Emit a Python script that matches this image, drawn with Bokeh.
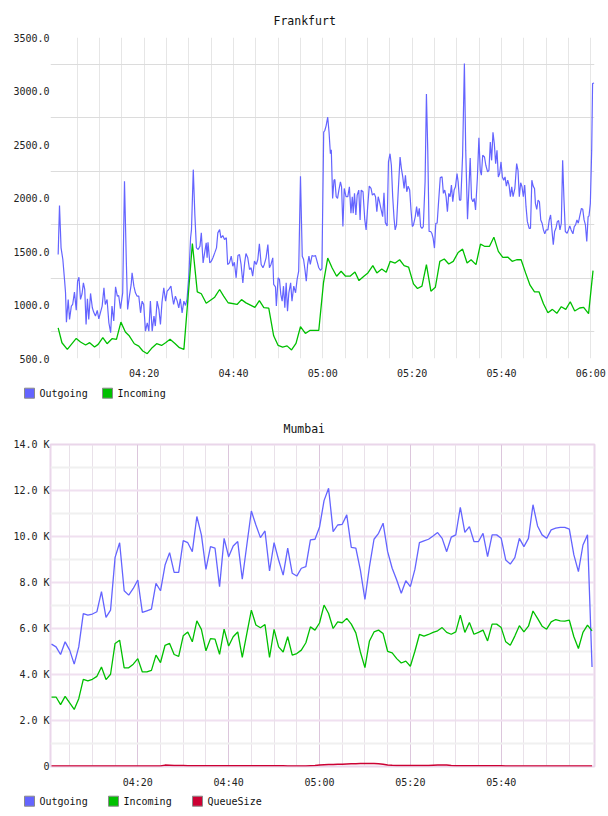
from bokeh.plotting import figure
from bokeh.models import FixedTicker, Grid
from bokeh.layouts import column, row
from bokeh.core.properties import value
from bokeh.embed import file_html
from bokeh.resources import INLINE

FONT = "DejaVu Sans Mono"
BLUE = "#6464ff"
GREEN = "#00c000"
RED = "#cc0033"

# ---------------- Frankfurt ----------------
# minutes after 04:00
fra_out_min = [
    0.75, 1.05, 1.4, 1.8, 2.2, 2.4, 2.6, 3.0, 3.3, 3.7,
    4.0, 4.4, 4.8, 5.1, 5.4, 5.75, 6.1, 6.4, 6.7, 7.0,
    7.3, 7.6, 8.0, 8.4, 8.7, 9.1, 9.5, 9.85, 10.2, 10.6,
    11.0, 11.3, 11.7, 12.1, 12.5, 12.8, 13.2, 13.6, 14.0, 14.3,
    14.7, 15.2, 15.6, 16.0, 16.3, 16.7, 17.1, 17.3, 17.7, 18.05,
    18.4, 18.8, 19.2, 19.55, 19.9, 20.3, 20.7, 21.05, 21.4, 21.8,
    22.2, 22.5, 22.9, 23.3, 23.65, 24.0, 24.4, 24.8, 25.15, 25.5,
    26.0, 26.3, 26.6, 27.0, 27.4, 27.75, 28.1, 28.5, 28.9, 29.25,
    29.6, 30.0, 30.4, 30.6, 31.0, 31.35, 31.7, 32.1, 32.5, 32.8,
    33.2, 33.6, 33.9, 34.1, 34.3, 34.7, 35.05, 35.4, 35.8, 36.2,
    36.5, 36.9, 37.2, 37.6, 38.0, 38.4, 38.7, 39.1, 39.5, 39.85,
    40.2, 40.6, 41.0, 41.35, 41.7, 42.1, 42.5, 42.8, 43.2, 43.6,
    43.95, 44.3, 44.7, 45.1, 45.45, 45.8, 46.2, 46.6, 46.9, 47.3,
    47.7, 48.05, 48.4, 48.8, 49.0, 49.4, 49.6, 50.0, 50.3, 50.6,
    50.9, 51.2, 51.5, 51.8, 52.1, 52.4, 52.8, 53.1, 53.5, 53.9,
    54.25, 54.6, 55.0, 55.4, 55.7, 56.0, 56.3, 56.6, 56.9, 57.2,
    57.6, 58.0, 58.35, 58.7, 59.1, 59.5, 59.8, 60.2, 60.45, 60.75,
    61.1, 61.4, 61.7, 61.9, 62.2, 62.5, 62.7, 63.0, 63.3, 63.6,
    63.95, 64.2, 64.5, 64.8, 65.2, 65.6, 65.95, 66.3, 66.6, 66.8,
    67.1, 67.4, 67.7, 68.05, 68.35, 68.6, 69.0, 69.4, 69.7, 70.05,
    70.4, 70.8, 71.1, 71.5, 71.8, 72.1, 72.4, 72.7, 73.0, 73.4,
    73.7, 74.0, 74.4, 74.7, 75.05, 75.35, 75.65, 75.95, 76.2, 76.5,
    76.9, 77.3, 77.6, 77.9, 78.2, 78.5, 78.8, 79.1, 79.45, 79.75,
    80.05, 80.3, 80.7, 81.0, 81.3, 81.6, 81.9, 82.2, 82.5, 82.9,
    83.2, 83.5, 83.8, 84.15, 84.4, 84.7, 85.0, 85.3, 85.6, 85.9,
    86.3, 86.7, 87.0, 87.3, 87.6, 87.9, 88.2, 88.5, 88.8, 89.1,
    89.4, 89.7, 90.05, 90.3, 90.6, 90.9, 91.3, 91.7, 92.0, 92.4,
    92.7, 93.0, 93.3, 93.6, 93.9, 94.2, 94.6, 94.95, 95.25, 95.5,
    95.8, 96.2, 96.5, 96.9, 97.2, 97.5, 97.8, 98.1, 98.4, 98.7,
    99.0, 99.3, 99.6, 99.9, 100.2, 100.5, 100.8, 101.1, 101.4, 101.7,
    102.0, 102.3, 102.6, 103.0, 103.4, 103.7, 104.0, 104.3, 104.6, 104.9,
    105.2, 105.5, 105.8, 106.2, 106.5, 106.8, 107.1, 107.4, 107.6, 107.9,
    108.2, 108.5, 108.8, 109.1, 109.4, 109.7, 110.0, 110.4, 110.7, 111.0,
    111.3, 111.6, 111.9, 112.2, 112.5, 112.8, 113.1, 113.4, 113.7, 114.0,
    114.3, 114.7, 115.0, 115.3, 115.6, 116.0, 116.3, 116.6, 116.9, 117.2,
    117.5, 117.9, 118.2, 118.5, 118.8, 119.1, 119.4, 119.6, 119.9, 120.2,
    120.4, 120.75,
]
fra_out = [
    1472, 1929, 1534, 1425, 1223, 1114, 840, 1052, 865, 990,
    1005, 1120, 952, 1223, 1260, 1052, 1105, 1207, 1145, 818,
    1058, 865, 1108, 974, 934, 896, 949, 871, 927, 990,
    1161, 1005, 1052, 834, 741, 990, 850, 1170, 1083, 1089,
    965, 1114, 2157, 1425, 959, 1083, 1192, 1301, 1176, 1114,
    1083, 1083, 927, 1036, 1005, 756, 834, 756, 1036, 756,
    896, 803, 1036, 959, 818, 1027, 1161, 1036, 1130, 1145,
    1176, 1083, 1005, 1083, 1036, 974, 1058, 927, 1036, 996,
    1052, 1270, 1628, 1705, 2265, 1845, 1534, 1519, 1550, 1674,
    1394, 1503, 1581, 1441, 1587, 1394, 1410, 1441, 1487, 1534,
    1674, 1705, 1628, 1649, 1612, 1628, 1379, 1394, 1456, 1363,
    1400, 1254, 1463, 1472, 1379, 1207, 1394, 1481, 1441, 1332,
    1348, 1270, 1410, 1379, 1425, 1572, 1379, 1348, 1379, 1441,
    1565, 1348, 1379, 1441, 1192, 1170, 990, 1254, 1239, 1099,
    1036, 1176, 974, 1207, 943, 1114, 1207, 1036, 1176, 1114,
    1239, 1316, 2203, 1456, 1425, 1332, 1223, 1379, 1456, 1379,
    1463, 1456, 1463, 1410, 1348, 1324, 1340, 2615, 2631, 2677,
    2755, 2615, 2414, 2451, 1996, 2166, 2173, 2012, 1996, 2074,
    2151, 2105, 1733, 2089, 2012, 2012, 2105, 1857, 2012, 1857,
    2043, 1841, 2027, 2074, 1795, 2074, 2058, 1795, 1702, 1919,
    2111, 2089, 2027, 2043, 2012, 1872, 2012, 1965, 1903, 1826,
    2049, 1770, 1739, 2337, 2414, 2306, 2012, 1810, 1702, 1748,
    2074, 2383, 2275, 2197, 2089, 2213, 2058, 2111, 2074, 1888,
    1733, 1748, 1826, 1919, 1826, 1903, 1733, 1717, 1733, 2151,
    2971, 2445, 1687, 1687, 1671, 1625, 1532, 1764, 1764, 1950,
    2191, 2197, 2043, 2074, 2012, 1872, 2043, 2012, 2120, 1965,
    2074, 2105, 2228, 2151, 1981, 1981, 2400, 3256, 2445, 1801,
    2074, 2374, 1996, 1965, 1996, 1888, 2182, 2563, 2259, 2213,
    2399, 2383, 2306, 2244, 2259, 2522, 2352, 2615, 2507, 2321,
    2445, 2197, 2228, 2337, 2197, 2166, 2197, 2111, 2166, 2120,
    2012, 2105, 2012, 2089, 2321, 2259, 2012, 2142, 2105, 2012,
    2120, 1919, 1779, 1717, 1717, 2166, 2111, 2089, 1950, 1894,
    1981, 1965, 1795, 1764, 1702, 1665, 1702, 1702, 1795, 1841,
    1702, 1563, 1687, 1717, 1779, 1789, 1702, 1764, 2352, 1981,
    1687, 1671, 1702, 1739, 1702, 1665, 1733, 1748, 1795, 1764,
    1826, 1903, 1894, 1795, 1748, 1594, 1826, 1832, 1950, 2445,
    3070, 3075,
]
fra_in_min = [
    0.75, 1.6, 2.8, 4.8, 5.75, 6.9, 7.8, 8.9, 9.7, 10.75,
    11.7, 12.8, 13.8, 14.8, 15.8, 16.7, 17.8, 18.8, 19.7, 20.7,
    21.8, 22.8, 23.9, 24.8, 25.8, 26.9, 27.9, 28.9, 30.8, 31.9,
    32.8, 33.9, 35.8, 36.9, 37.8, 38.8, 40.8, 41.8, 42.8, 44.8,
    45.8, 46.8, 47.9, 49, 50, 51, 52, 53, 54, 55,
    56.1, 57.1, 59.1, 60.15, 61.1, 62.1, 63.1, 64.1, 65.1, 66.1,
    67.2, 68.1, 69.2, 70.1, 71.2, 72.1, 73.2, 74.2, 75.1, 76.2,
    77.2, 78.2, 79.2, 80.3, 81.2, 82.2, 83.2, 84.2, 85.2, 86.2,
    87.2, 88.2, 89.2, 90.3, 91.3, 92.3, 93.2, 94.3, 95.3, 96.3,
    97.3, 98.3, 99.3, 100.3, 101.4, 102.4, 103.4, 104.4, 105.4, 106.4,
    107.4, 108.4, 109.4, 110.4, 111.4, 112.4, 113.4, 114.4, 115.4, 116.4,
    117.5, 118.4, 119.5, 120.5,
]
fra_in = [
    787, 647, 585, 688, 654, 626, 648, 607, 632, 694,
    638, 685, 679, 840, 747, 710, 638, 616, 570, 545,
    601, 638, 622, 647, 679, 641, 601, 585, 1575, 1123,
    1105, 1017, 1073, 1145, 1083, 1021, 1005, 1050, 1020, 978,
    1040, 975, 970, 712, 622, 607, 618, 580, 642, 797,
    734, 762, 762, 1207, 1439, 1346, 1269, 1315, 1269, 1269,
    1309, 1228, 1269, 1300, 1368, 1300, 1337, 1306, 1408, 1392,
    1423, 1368, 1355, 1197, 1154, 1176, 1377, 1129, 1166, 1408,
    1430, 1383, 1408, 1491, 1522, 1392, 1423, 1377, 1569, 1547,
    1547, 1634, 1501, 1445, 1448, 1408, 1423, 1423, 1300, 1185,
    1123, 1123, 1012, 928, 959, 922, 984, 959, 1030, 944,
    972, 978, 919, 1321,
]

# ---------------- Mumbai (one sample per minute, 04:01 .. 06:00), values in K ----
mum_min = list(range(1, 121))
mum_out = [
    5.32, 5.20, 4.87, 5.42, 5.06, 4.45, 5.20, 6.65, 6.58, 6.63,
    6.73, 7.60, 6.48, 6.80, 9.09, 9.73, 7.64, 7.45, 7.74, 8.11,
    6.70, 6.77, 6.84, 7.96, 7.64, 8.76, 9.30, 8.44, 8.44, 9.82,
    9.73, 9.34, 10.87, 10.07, 8.57, 9.56, 9.49, 7.82, 9.92, 9.12,
    9.59, 9.78, 8.14, 9.63, 11.11, 10.50, 9.95, 10.24, 8.50, 9.73,
    8.98, 8.32, 9.49, 8.40, 8.28, 8.62, 8.69, 9.85, 9.88, 10.40,
    11.56, 12.10, 10.21, 10.50, 10.53, 10.94, 9.53, 9.49, 8.54, 7.26,
    8.69, 9.88, 10.14, 10.58, 9.34, 8.62, 8.11, 7.53, 8.08, 7.82,
    8.57, 9.73, 9.81, 9.88, 10.02, 10.17, 9.92, 9.34, 9.97, 10.07,
    11.27, 10.18, 10.43, 9.78, 9.78, 10.14, 9.12, 10.07, 10.07, 9.92,
    8.98, 8.80, 9.08, 9.92, 9.56, 9.92, 11.38, 10.46, 10.07, 9.92,
    10.29, 10.36, 10.40, 10.40, 10.32, 9.20, 8.47, 9.63, 10.07, 4.33,
]
mum_in = [
    3.02, 3.02, 2.69, 3.05, 2.77, 2.48, 2.95, 3.79, 3.72, 3.79,
    3.92, 4.33, 3.78, 4.01, 5.35, 5.49, 4.29, 4.29, 4.45, 4.69,
    4.11, 4.11, 4.18, 4.84, 4.52, 5.27, 5.35, 4.87, 4.79, 5.68,
    5.85, 5.42, 6.33, 5.96, 5.03, 5.56, 5.54, 4.88, 5.97, 5.24,
    5.64, 5.85, 4.74, 5.78, 6.80, 6.15, 6.03, 6.17, 4.74, 5.96,
    5.20, 4.98, 5.64, 4.84, 4.91, 5.06, 5.38, 6.07, 5.93, 6.24,
    7.02, 6.65, 6.00, 6.29, 6.25, 6.44, 6.19, 5.81, 4.98, 4.30,
    5.46, 5.85, 5.93, 5.78, 5.01, 4.94, 4.69, 4.50, 4.58, 4.36,
    5.01, 5.74, 5.67, 5.74, 5.83, 5.90, 6.04, 5.83, 5.75, 5.85,
    6.58, 5.83, 6.26, 5.75, 5.83, 5.93, 5.46, 6.19, 6.19, 6.04,
    5.42, 5.27, 5.67, 6.12, 5.85, 6.10, 6.76, 6.44, 6.10, 5.97,
    6.29, 6.39, 6.33, 6.32, 6.36, 5.64, 5.13, 5.83, 6.15, 5.90,
]
mum_queue = [
    0.02, 0.02, 0.02, 0.02, 0.02, 0.02, 0.02, 0.02, 0.02, 0.02,
    0.02, 0.02, 0.02, 0.02, 0.02, 0.02, 0.02, 0.02, 0.02, 0.02,
    0.02, 0.02, 0.02, 0.02, 0.02, 0.06, 0.05, 0.04, 0.04, 0.04,
    0.03, 0.03, 0.03, 0.03, 0.03, 0.03, 0.03, 0.03, 0.03, 0.03,
    0.03, 0.03, 0.03, 0.03, 0.03, 0.03, 0.03, 0.03, 0.03, 0.03,
    0.03, 0.03, 0.02, 0.02, 0.02, 0.02, 0.02, 0.03, 0.04, 0.06,
    0.08, 0.09, 0.09, 0.10, 0.10, 0.11, 0.12, 0.12, 0.13, 0.13,
    0.13, 0.13, 0.12, 0.10, 0.07, 0.05, 0.04, 0.04, 0.04, 0.04,
    0.04, 0.04, 0.04, 0.04, 0.05, 0.06, 0.07, 0.06, 0.04, 0.03,
    0.03, 0.03, 0.03, 0.03, 0.03, 0.03, 0.03, 0.03, 0.03, 0.03,
    0.02, 0.02, 0.02, 0.02, 0.02, 0.02, 0.02, 0.02, 0.02, 0.02,
    0.02, 0.02, 0.02, 0.02, 0.02, 0.02, 0.02, 0.02, 0.02, 0.02,
]

# ---------------- ticks & legend labels ----------------
time_ticks = [20, 40, 60, 80, 100, 120]
time_labels = ["04:20", "04:40", "05:00", "05:20", "05:40", "06:00"]
fra_y_ticks = [500, 1000, 1500, 2000, 2500, 3000, 3500]
fra_y_labels = ["500.0", "1000.0", "1500.0", "2000.0", "2500.0", "3000.0", "3500.0"]
fra_grid_y = [750, 1250, 1750, 2250, 2750, 3250]
mum_y_ticks = [0, 2, 4, 6, 8, 10, 12, 14]
mum_y_labels = ["0", "2.0 K", "4.0 K", "6.0 K", "8.0 K", "10.0 K", "12.0 K", "14.0 K"]
five_min = list(range(5, 121, 5))
fra_series = ["Outgoing", "Incoming"]
mum_series = ["Outgoing", "Incoming", "QueueSize"]

FRAME_LEFT = 50
W = 608


def style_axes(p, xticks, xlabels, yticks, ylabels, xstandoff):
    p.xaxis.ticker = FixedTicker(ticks=xticks)
    p.xaxis.major_label_overrides = dict(zip(xticks, xlabels))
    p.yaxis.ticker = FixedTicker(ticks=yticks)
    p.yaxis.major_label_overrides = dict(zip(yticks, ylabels))
    for ax in (p.xaxis, p.yaxis):
        ax.axis_line_color = None
        ax.major_tick_line_color = None
        ax.minor_tick_line_color = None
        ax.major_tick_out = 0
        ax.major_tick_in = 0
        ax.minor_tick_out = 0
        ax.minor_tick_in = 0
        ax.major_label_text_font = FONT
        ax.major_label_text_font_size = "10px"
        ax.major_label_text_color = "#222222"
    p.xaxis.major_label_standoff = xstandoff
    p.yaxis.major_label_standoff = 1
    p.title.text_font = FONT
    p.title.text_font_size = "11.5px"
    p.title.text_font_style = "normal"
    p.title.text_color = "#111111"
    p.title.align = "left"
    p.title.vertical_align = "middle"


def legend_fig(names, colors, pitch):
    lf = figure(width=W, height=24, x_range=(0, W), y_range=(24, 0),
                output_backend="svg", toolbar_location=None, min_border=0,
                x_axis_location=None, y_axis_location=None)
    lf.outline_line_color = None
    lf.grid.visible = False
    n = len(names)
    xs = [24 + i * pitch for i in range(n)]
    lf.quad(left=xs, right=[x + 10 for x in xs], top=[3.7] * n, bottom=[13.7] * n,
            fill_color=colors, line_color="#8a8a8a", line_width=1)
    lf.text(x=[x + 15 for x in xs], y=[8.7] * n, text=names,
            text_font=value(FONT), text_font_size=value("10px"),
            text_baseline="middle", text_align="left", text_color="#111111")
    return lf


# ---------------- Frankfurt figure ----------------
fra_px_per_min = 4.472
fra_start = 0.6 - (57 - FRAME_LEFT) / fra_px_per_min
p1 = figure(width=W, height=384, x_range=(fra_start, 120.83), y_range=(500, 3500),
            output_backend="svg", toolbar_location=None, title="Frankfurt",
            min_border_left=FRAME_LEFT, min_border_right=14, min_border_top=37,
            min_border_bottom=26)
p1.outline_line_color = None
style_axes(p1, time_ticks, time_labels, fra_y_ticks, fra_y_labels, 9)
p1.title.offset = 223
p1.title.standoff = 18
p1.xgrid.ticker = FixedTicker(ticks=five_min)
p1.xgrid.grid_line_color = "#e6e6e6"
p1.ygrid.ticker = FixedTicker(ticks=fra_grid_y)
p1.ygrid.grid_line_color = "#dcdcdc"
p1.ygrid.bounds = (0.6, 120.83)
p1.line(fra_out_min, fra_out, line_color=BLUE, line_width=1.2)
p1.line(fra_in_min, fra_in, line_color=GREEN, line_width=1.3)
lf1 = legend_fig(fra_series, [BLUE, GREEN], 78)

# ---------------- Mumbai figure ----------------
p2 = figure(width=W, height=384, x_range=(0.78, 120.54), y_range=(0, 14),
            output_backend="svg", toolbar_location=None, title="Mumbai",
            min_border_left=FRAME_LEFT, min_border_right=14, min_border_top=36,
            min_border_bottom=26)
p2.outline_line_color = "#ead6ea"
p2.outline_line_width = 2
style_axes(p2, time_ticks[:-1], time_labels[:-1], mum_y_ticks, mum_y_labels, 10)
p2.title.offset = 233
p2.title.standoff = 16
p2.xgrid.ticker = FixedTicker(ticks=[20, 40, 60, 80, 100])
p2.xgrid.grid_line_color = "#dcc6dc"
p2.add_layout(Grid(dimension=0, ticker=FixedTicker(ticks=[t for t in five_min if t % 20 != 0]),
                   grid_line_color="#e9e1e9"))
p2.ygrid.ticker = FixedTicker(ticks=[2, 4, 6, 8, 10, 12])
p2.ygrid.grid_line_color = "#f0e0f0"
p2.ygrid.grid_line_width = 2
p2.add_layout(Grid(dimension=1, ticker=FixedTicker(ticks=[1, 3, 5, 7, 9, 11, 13]),
                   grid_line_color="#f0f0f0", grid_line_width=2))
p2.line(mum_min, mum_out, line_color=BLUE, line_width=1.3)
p2.line(mum_min, mum_in, line_color=GREEN, line_width=1.3)
p2.line(mum_min, mum_queue, line_color=RED, line_width=1.5)
lf2 = legend_fig(mum_series, [BLUE, GREEN, RED], 84)

layout = column(row(p1), row(lf1), row(p2), row(lf2), spacing=0)
open("out.html", "w").write(file_html(layout, INLINE))
